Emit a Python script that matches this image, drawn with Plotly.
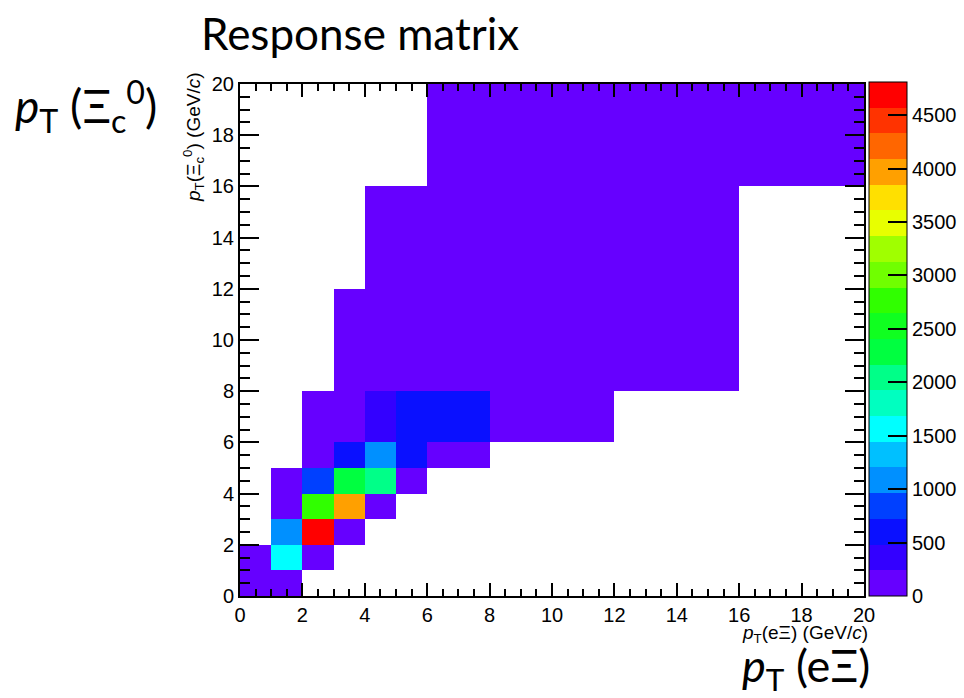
import plotly.graph_objects as go
import numpy as np

# Variable bin edges (GeV/c)
x_edges = [0, 1, 2, 3, 4, 5, 6, 8, 12, 16, 20]   # p_T(eXi)
y_edges = [0, 1, 2, 3, 4, 5, 6, 8, 12, 16, 20]   # p_T(Xi_c^0)

N = None
# rows: y bins (bottom to top), columns: x bins (left to right)
counts = [
    [150, 120, N, N, N, N, N, N, N, N],
    [180, 1550, 90, N, N, N, N, N, N, N],
    [N, 1080, 4810, 110, N, N, N, N, N, N],
    [N, 160, 2750, 3950, 130, N, N, N, N, N],
    [N, 100, 750, 2280, 2050, 140, N, N, N, N],
    [N, N, 120, 620, 1100, 600, 200, N, N, N],
    [N, N, 60, 210, 360, 560, 520, 180, N, N],
    [N, N, N, 40, 60, 80, 120, 150, 60, N],
    [N, N, N, N, 20, 30, 50, 80, 70, N],
    [N, N, N, N, N, N, 20, 40, 50, 30],
]
z_max = 4810
cbar_ticks = [0, 500, 1000, 1500, 2000, 2500, 3000, 3500, 4000, 4500]
axis_ticks = list(range(0, 21, 2))

# ROOT-like 20-level rainbow palette (bottom to top)
palette = ["#6600ff", "#3300ff", "#0a10ff", "#0040ff", "#0090ff",
           "#00c0ff", "#00ffff", "#00ffc0", "#00ff88", "#00ff40",
           "#10ff20", "#30ff00", "#70ff00", "#a0ff00", "#e8ff00",
           "#ffe000", "#ffa000", "#ff6600", "#ff3300", "#ff0000"]
n = len(palette)
colorscale = []
for i, c in enumerate(palette):
    colorscale.append([i / n, c])
    colorscale.append([(i + 1) / n, c])

z = np.array([[np.nan if v is None else v for v in row] for row in counts], dtype=float)

L, R, T, B = 240, 864, 84, 596
W, H = R - L, B - T

fig = go.Figure(go.Heatmap(
    x=x_edges, y=y_edges, z=z,
    zmin=0, zmax=z_max, colorscale=colorscale,
    hoverongaps=False,
    colorbar=dict(
        x=1 + 5 / W, xanchor="left", xpad=0,
        y=0, yanchor="bottom", len=1.004, lenmode="fraction", ypad=0,
        thickness=38, outlinecolor="black", outlinewidth=1,
        tickvals=cbar_ticks, ticks="inside", ticklen=19, tickcolor="black", tickwidth=2,
        tickfont=dict(family="Liberation Sans, Arial", size=20, color="black"),
    ),
))

tick_font = dict(family="Liberation Sans, Arial", size=20, color="black")
fig.update_xaxes(
    range=[0, 20], tickvals=axis_ticks, ticks="inside", ticklen=13, tickwidth=2,
    tickcolor="black", showline=True, linecolor="black", linewidth=2, mirror="allticks",
    showgrid=False, zeroline=False, tickfont=tick_font,
    minor=dict(dtick=0.5, ticks="inside", ticklen=7, tickwidth=1.5, tickcolor="black", showgrid=False),
)
fig.update_yaxes(
    range=[0, 20], tickvals=axis_ticks, ticks="inside", ticklen=19, tickwidth=2,
    tickcolor="black", showline=True, linecolor="black", linewidth=2, mirror="allticks",
    showgrid=False, zeroline=False, tickfont=tick_font,
    minor=dict(dtick=0.5, ticks="inside", ticklen=10, tickwidth=1.5, tickcolor="black", showgrid=False),
)

big_font = dict(family="Lato, Open Sans, sans-serif", size=44, color="black")
lab_font = dict(family="Liberation Sans, Arial", size=19, color="black")
fig.update_layout(
    width=964, height=698,
    margin=dict(l=L, r=964 - R, t=T, b=698 - B, autoexpand=False),
    paper_bgcolor="white", plot_bgcolor="white",
    showlegend=False,
    annotations=[
        dict(text="Response matrix", xref="paper", yref="paper",
             x=(360 - L) / W, y=1 + (T - 33) / H, xanchor="center", yanchor="middle",
             showarrow=False, font=big_font),
        dict(text="<i>p</i><sub>T</sub> (Ξ<sub>c</sub><sup>0</sup>)", xref="paper", yref="paper",
             x=(13 - L) / W, y=1 - (106 - T) / H, xanchor="left", yanchor="middle",
             showarrow=False, font=dict(family="Lato, Open Sans, sans-serif", size=46, color="black")),
        dict(text="<i>p</i><sub>T</sub> (eΞ)", xref="paper", yref="paper",
             x=(872 - L) / W, y=-(668 - B) / H, xanchor="right", yanchor="middle",
             showarrow=False, font=dict(family="Lato, Open Sans, sans-serif", size=45, color="black")),
        dict(text="<i>p</i><sub>T</sub>(eΞ) (GeV/<i>c</i>)", xref="paper", yref="paper",
             x=(870 - L) / W, y=-(634 - B) / H, xanchor="right", yanchor="middle",
             showarrow=False, font=lab_font),
        dict(text="<i>p</i><sub>T</sub>(Ξ<sub>c</sub><sup>0</sup>) (GeV/<i>c</i>)", xref="paper", yref="paper",
             x=(193 - L) / W, y=1 + 14 / H, xanchor="center", yanchor="top", textangle=-90,
             showarrow=False, font=lab_font),
    ],
)

fig.write_html("out.html")
